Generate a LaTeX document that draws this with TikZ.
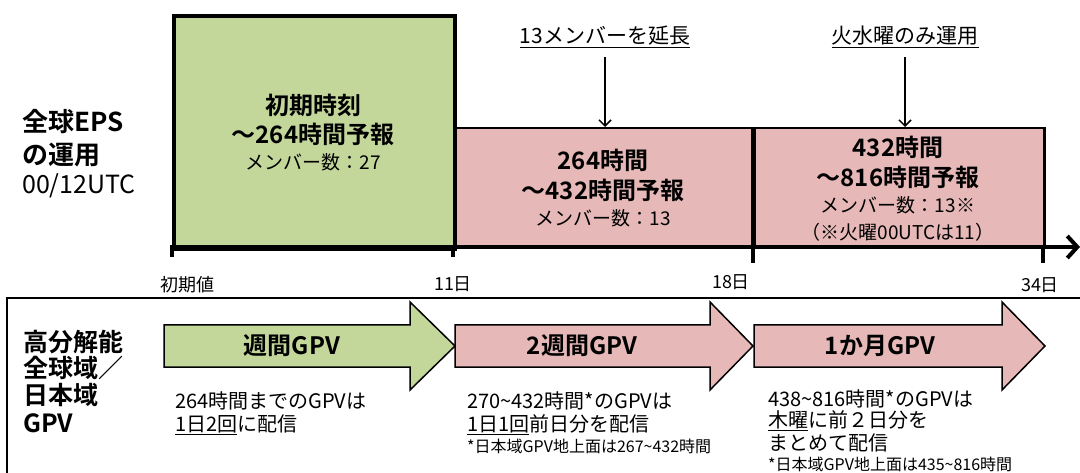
\documentclass[tikz,border=0pt]{standalone}
\usepackage{fontspec}
\setmainfont{Noto Sans CJK JP}[BoldFont={* Bold}]
\usetikzlibrary{arrows.meta}
\definecolor{gfill}{HTML}{C4D79B}
\definecolor{pfill}{HTML}{E6B9B8}
\newcommand{\tld}{\textasciitilde}
\tikzset{
  boxg/.style={draw=black, line width=4pt, fill=gfill, anchor=north west, inner sep=0},
  boxp/.style={draw=black, line width=2.5pt, fill=pfill, anchor=north west, inner sep=0},
  ttl/.style={font=\fontsize{26}{28}\selectfont\bfseries, anchor=west, inner sep=0},
  ttlr/.style={font=\fontsize{25}{28}\selectfont, anchor=west, inner sep=0},
  lowttl/.style={font=\fontsize{25}{28}\selectfont\bfseries, anchor=west, inner sep=0},
  btxt/.style={font=\fontsize{24}{27}\selectfont\bfseries, inner sep=0},
  rtxt/.style={font=\fontsize{19}{22}\selectfont, inner sep=0},
  toplbl/.style={font=\fontsize{21}{24}\selectfont, inner sep=1pt},
  axlbl/.style={font=\fontsize{18}{20}\selectfont, inner sep=0},
  desc/.style={font=\fontsize{20}{23}\selectfont, anchor=west, inner sep=0},
  smallnote/.style={font=\fontsize{16}{18}\selectfont, anchor=west, inner sep=0},
  downarr/.style={line width=1.5pt, -{Straight Barb[length=6pt,width=12pt,line width=1.5pt]}},
  blockarr/.style={draw=black, line width=1.5pt, line join=miter},
}
\begin{document}
\begin{tikzpicture}[x=1pt,y=-1pt]
\useasboundingbox (0,0) rectangle (1080,473);
% left title
\node[ttl] (t1) at (22,122) {全球EPS};
\node[ttl] (t2) at (22,155) {の運用};
\node[ttlr] (t3) at (22,186) {00/12UTC};
% boxes
\node[boxp, minimum width=300pt, minimum height=120pt] (p1) at (453,127) {};
\node[boxp, minimum width=290pt, minimum height=120pt] (p2) at (753,127) {};
\node[boxg, minimum width=281pt, minimum height=233pt] (g) at (172,14) {};
\draw[line width=4pt] (753,127) -- (753,263);
% axis
\coordinate (ax0) at (170,247);
\coordinate (axE) at (1080,247);
\draw[line width=4pt, -{Straight Barb[length=10pt,width=22pt,line width=4pt]}] (ax0) -- (axE);
\draw[line width=4pt] (172,245) -- (172,257);
\draw[line width=4pt] (453,245) -- (453,257);
\draw[line width=4pt] (1043,245) -- (1043,263);
% box texts
\node[btxt] (g1) at (313,105) {初期時刻};
\node[btxt] (g2) at (313,134) {～264時間予報};
\node[rtxt] (g3) at (313,162) {メンバー数：27};
\node[btxt] (a1) at (603,160) {264時間};
\node[btxt] (a2) at (603,190) {～432時間予報};
\node[rtxt] (a3) at (603,218) {メンバー数：13};
\node[btxt] (b1) at (898,147) {432時間};
\node[btxt] (b2) at (898,177) {～816時間予報};
\node[rtxt] (b3) at (898,205) {メンバー数：13※};
\node[rtxt] (b4) at (898,232) {（※火曜00UTCは11）};
% top labels and arrows
\node[toplbl] (L1) at (605,37) {\underline{13メンバーを延長}};
\node[toplbl] (L2) at (905,37) {\underline{火水曜のみ運用}};
\draw[downarr] ([yshift=-8pt]L1.south) -- (L1.south |- p1.north);
\draw[downarr] ([yshift=-8pt]L2.south) -- (L2.south |- p2.north);
% axis labels
\node[axlbl] (x0) at (187,285) {初期値};
\node[axlbl] (x1) at (453,284) {11日};
\node[axlbl] (x2) at (731,282) {18日};
\node[axlbl] (x3) at (1040,285) {34日};
% lower frame
\draw[line width=2pt] (1090,298) -- (7,298) -- (7,480);
% lower left labels
\node[lowttl] (u1) at (23,342) {高分解能};
\node[lowttl] (u2) at (23,368) {全球域／};
\node[lowttl] (u3) at (23,395) {日本域};
\node[lowttl] (u4) at (23,423) {GPV};
% block arrows
\draw[blockarr, fill=gfill] (164,325) -- (410,325) -- (410,302) -- (455,346) -- (410,390) -- (410,367) -- (164,367) -- cycle;
\draw[blockarr, fill=pfill] (455,325) -- (710,325) -- (710,302) -- (753,346) -- (710,390) -- (710,367) -- (455,367) -- cycle;
\draw[blockarr, fill=pfill] (754,325) -- (1002,325) -- (1002,302) -- (1045,346) -- (1002,390) -- (1002,367) -- (754,367) -- cycle;
\node[btxt] (k1) at (292,346) {週間GPV};
\node[btxt] (k2) at (582,346) {2週間GPV};
\node[btxt] (k3) at (880,346) {1か月GPV};
% descriptions
\node[desc] (d11) at (175,401) {264時間までのGPVは};
\node[desc] (d12) at (175,425) {\underline{1日2回}に配信};
\node[desc] (d21) at (467,401) {270\tld 432時間*のGPVは};
\node[desc] (d22) at (467,425) {\underline{1日1回}前日分を配信};
\node[smallnote] (d23) at (467,446) {*日本域GPV地上面は267\tld 432時間};
\node[desc] (d31) at (768,399) {438\tld 816時間*のGPVは};
\node[desc] (d32) at (768,421) {\underline{木曜}に前２日分を};
\node[desc] (d33) at (768,443) {まとめて配信};
\node[smallnote] (d34) at (768,464) {*日本域GPV地上面は435\tld 816時間};
\end{tikzpicture}
\end{document}
